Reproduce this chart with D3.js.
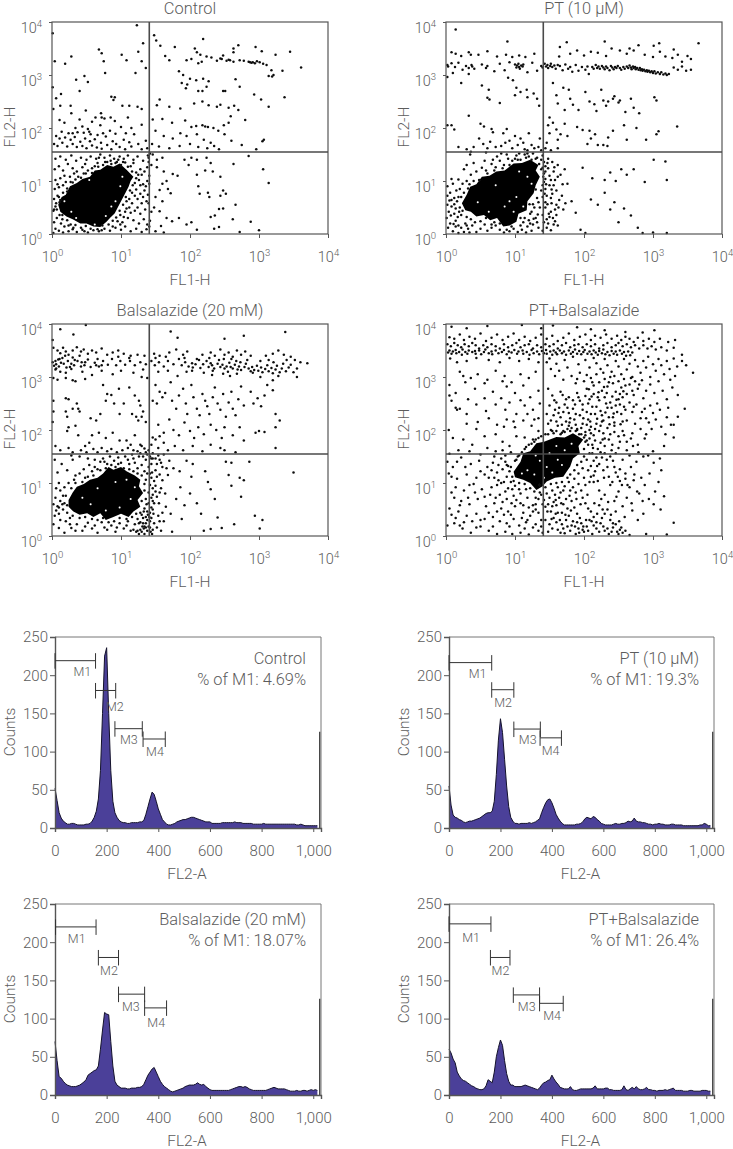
<!DOCTYPE html>
<html>
<head>
<meta charset="utf-8">
<script src="https://cdn.jsdelivr.net/npm/d3@7"></script>
<style>
    html, body { margin: 0; background: #fff; }
    svg { display: block; }
    text { font-family: Roboto, "Liberation Sans", sans-serif; font-weight: 300; fill: #5c5c5c; }
</style>
</head>
<body>
<script>
// ---- scatter values as log10 of FL1-H, FL2-H ----
const controlDense = [[.09,.55],[.14,.70],[.20,.74],[.26,.90],[.36,.96],[.44,1.04],[.55,1.08],[.62,1.20],[.70,1.21],[.80,1.30],[.89,1.27],[.98,1.33],[1.08,1.21],[1.18,1.08],[1.14,1.00],[1.11,.89],[1.05,.74],[1.01,.64],[.96,.52],[.91,.39],[.84,.30],[.79,.23],[.70,.13],[.60,.14],[.50,.20],[.41,.20],[.30,.28],[.21,.33],[.12,.42]];
const controlHoles = [[.62,.18],[.78,.34],[.92,.62],[.28,.42],[.99,.90],[.18,.62],[1.02,1.08],[.54,1.02],[.35,.30],[.86,.52]];
const controlDots = [
[1.23,3.94],[.01,3.79],[1.32,3.60],[1.25,3.44],[.68,3.48],[.72,3.41],[1.01,3.38],[1.08,3.28],[.75,3.26],[1.30,3.26],[.04,3.26],[.19,3.21],[.28,3.35],[1.21,3.04],[1.36,3.13],[.77,3.04],[.47,2.98],[.35,2.91],[.52,2.87],[.40,2.70],[.01,2.77],[.13,2.64],[.06,2.56],[.86,2.59],[.91,2.58],[.89,2.53],[.12,2.42],[.27,2.42],[.02,2.36],[.28,2.28],[.49,2.33],[.71,2.28],[.85,2.20],[1.02,2.42],[1.12,2.42],[1.24,2.40],[1.30,2.36],[.63,2.20],[.72,2.20],[.76,2.18],[.91,2.13],[1.10,2.20],[.11,2.15],[.18,2.10],[.40,2.16],[.58,2.12],[.34,2.00],[.44,2.03],[.52,1.98],[.70,2.05],[.84,1.95],[1.00,2.02],[1.15,2.00],[1.30,2.06],[.14,1.93],[.24,1.90],[.30,1.90],[.37,1.92],[.46,1.91],[.54,1.93],[.56,1.88],[.66,1.87],[.74,1.90],[.92,1.89],[1.07,1.90],[1.19,1.88],[.06,1.85],[.11,1.80],[.19,1.82],[.27,1.78],[.33,1.83],[.41,1.74],[.48,1.80],[.55,1.75],[.62,1.79],[.71,1.72],[.78,1.84],[.88,1.75],[.93,1.70],[1.04,1.78],[1.12,1.73],[1.25,1.70],[1.36,1.76],[.03,1.70],[.08,1.66],[.15,1.72],[.22,1.65],[.30,1.70],[.36,1.64],[.44,1.66],[.50,1.62],[.58,1.67],[.65,1.63],[.72,1.61],[.80,1.68],[.86,1.60],[.98,1.64],[1.06,1.60],[1.15,1.65],[1.30,1.60],[1.38,1.62],
[1.48,3.75],[1.51,3.65],[1.57,3.55],[1.78,3.53],[2.19,3.68],[1.64,3.36],[1.70,3.28],[2.07,3.50],[2.10,3.43],[2.15,3.38],[2.48,3.37],[2.63,3.50],[2.70,3.56],[2.63,3.43],[2.95,3.53],[3.04,3.45],[3.24,3.38],[3.45,3.44],[1.95,3.28],[2.02,3.30],[2.12,3.22],[2.17,3.25],[2.24,3.35],[2.31,3.33],[2.39,3.27],[2.44,3.31],[2.46,3.30],[2.53,3.27],[2.56,3.29],[2.58,3.28],[2.63,3.25],[2.72,3.28],[2.78,3.27],[2.85,3.25],[2.87,3.24],[2.89,3.23],[2.91,3.24],[2.94,3.22],[2.97,3.26],[3.01,3.24],[3.06,3.21],[3.11,3.19],[3.18,3.09],[3.21,3.00],[3.14,2.98],[3.19,2.97],[3.34,3.08],[3.61,3.14],[1.84,3.07],[1.90,3.00],[2.00,2.93],[2.09,2.90],[2.19,2.93],[2.27,2.88],[1.88,2.85],[1.96,2.82],[2.24,2.78],[2.66,2.92],[2.72,2.78],[1.94,2.75],[2.12,2.70],[2.18,2.70],[2.48,2.70],[2.51,2.70],[2.93,2.63],[3.03,2.54],[3.37,2.58],[3.14,2.40],[1.56,2.54],[1.70,2.40],[1.52,2.43],[1.86,2.37],[2.06,2.46],[2.18,2.50],[2.27,2.43],[2.39,2.40],[2.44,2.44],[2.56,2.38],[2.64,2.42],[2.70,2.34],[1.60,2.17],[1.46,2.16],[1.74,2.10],[1.93,2.14],[2.02,2.02],[2.09,2.04],[2.18,2.05],[2.22,2.03],[2.26,2.02],[2.34,2.00],[2.49,2.05],[2.56,2.10],[2.59,2.22],[2.80,2.15],[2.41,1.95],[2.50,1.88],[1.50,1.95],[1.62,1.85],[1.75,1.80],[1.86,1.90],[1.95,1.85],[2.10,1.88],[2.20,1.78],[2.30,1.72],[2.60,1.76],[3.05,1.75],[3.07,1.78],[2.75,1.68],[2.96,1.60],[1.45,1.70],[1.55,1.65],[1.70,1.62],[1.85,1.66],[2.00,1.70],[2.12,1.64],[2.25,1.62],[2.35,1.66],[2.42,1.60],
[1.46,1.50],[1.52,1.40],[1.60,1.44],[1.44,1.30],[1.52,1.26],[1.62,1.18],[1.75,1.13],[1.82,1.10],[1.66,1.00],[1.60,.95],[1.56,.83],[1.68,.85],[1.72,.77],[1.60,.62],[1.50,.70],[1.48,.50],[1.44,.42],[1.56,.43],[1.66,.30],[1.74,.24],[1.84,.30],[1.95,.18],[2.02,.22],[1.58,.15],[1.62,.03],[1.50,.05],[2.10,.08],[2.35,.10],[2.42,.13],[2.72,.04],[3.00,.07],[2.88,.23],[3.14,.96],[3.06,1.22],[2.85,1.47],[2.63,1.32],[2.24,1.44],[2.30,1.34],[2.33,1.18],[2.22,1.20],[2.10,1.12],[2.02,1.44],[1.98,1.30],[1.92,1.40],[2.10,1.40],[2.12,.90],[2.14,.76],[2.26,.78],[2.28,.70],[2.44,1.08],[2.48,.82],[2.52,.76],[2.44,.72],[2.42,.47],[2.48,.48],[2.36,.35],[2.30,.32],[2.66,.55],[2.62,.28]
];
const controlFringe = [
[.02,.02],[.05,.10],[.10,.06],[.16,.03],[.24,.05],[.30,.09],[.36,.04],[.44,.08],[.52,.03],[.60,.07],[.68,.05],[.76,.10],[.84,.06],[.92,.12],[1.00,.08],[1.06,.14],[1.14,.05],[1.22,.10],[1.30,.04],[1.37,.09],[.03,.22],[.07,.30],[.13,.20],[.18,.14],[.95,.24],[1.02,.22],[1.10,.30],[1.18,.26],[1.26,.20],[1.33,.28],[1.38,.18],[.02,.44],[.05,.52],[.99,.36],[1.06,.42],[1.12,.50],[1.20,.44],[1.28,.38],[1.35,.46],[.03,.66],[.08,.72],[.12,.64],[1.08,.62],[1.16,.58],[1.24,.66],[1.30,.58],[1.37,.62],[.04,.85],[.10,.88],[.16,.92],[.22,.86],[.27,.98],[1.16,.78],[1.22,.84],[1.28,.76],[1.34,.82],[1.39,.74],[.05,1.02],[.12,1.05],[.18,1.10],[.26,1.08],[.34,1.03],[.42,1.06],[.46,1.14],[1.20,.96],[1.26,1.02],[1.32,.94],[1.38,1.00],[.04,1.22],[.10,1.28],[.16,1.20],[.23,1.32],[.30,1.24],[.36,1.18],[.44,1.26],[.52,1.20],[.58,1.15],[.62,1.28],[.66,1.34],[.74,1.30],[.80,1.36],[.86,1.32],[.94,1.36],[1.00,1.30],[1.06,1.35],[1.14,1.28],[1.22,1.16],[1.28,1.22],[1.34,1.18],[1.38,1.26],[.05,1.42],[.12,1.46],[.20,1.40],[.28,1.48],[.35,1.38],[.42,1.44],[.50,1.40],[.56,1.46],[.64,1.42],[.70,1.50],[.76,1.44],[.84,1.48],[.90,1.42],[.98,1.46],[1.04,1.42],[1.10,1.48],[1.18,1.40],[1.24,1.46],[1.32,1.38],[1.39,1.48],[1.40,1.36],
[.07,.46],[.11,.36],[.15,.28],[.22,.26],[.27,.18],[.34,.17],[.42,.12],[.49,.15],[.56,.10],[.66,.09],[.73,.16],[.82,.18],[.88,.25],[.93,.31],[.98,.44],[1.03,.55],[1.07,.70],[1.13,.82],[1.17,.92],[1.22,1.05],[1.25,1.12],[1.16,1.18],[1.10,1.27],[1.03,1.36],[.92,1.34],[.85,1.38],[.77,1.36],[.67,1.27],[.58,1.24],[.49,1.14],[.38,1.08],[.30,.97],[.22,.80],[.16,.78],[.11,.60],[.06,.58],[.10,.70],[.15,.36],[.31,.12],[.47,.05],[.72,.07],[.99,.18],[1.08,.48],[1.12,.66],[1.20,.72],[1.28,.92],[1.30,1.12],[1.18,1.34],[.96,1.40],[.68,1.44],[.48,1.32],[.32,1.14],[.20,.98],[.08,.94],[.03,.46],[.24,.16],[.88,.14],[1.04,.32],[1.14,.40],[1.24,.50],[1.32,.70],[1.36,.90],[1.41,.95],[1.40,.58],[1.42,.25],[1.41,.14],[1.41,1.10],[1.40,1.44],[1.42,1.52]
];

const ptDense = [[.23,.58],[.30,.74],[.35,.89],[.44,.94],[.52,1.08],[.63,1.10],[.73,1.18],[.85,1.20],[.98,1.33],[1.10,1.34],[1.22,1.40],[1.34,1.30],[1.30,1.20],[1.36,1.08],[1.30,.92],[1.27,.77],[1.18,.62],[1.17,.45],[1.05,.38],[1.02,.23],[.92,.16],[.83,.14],[.74,.30],[.64,.26],[.55,.36],[.44,.33],[.36,.42],[.28,.45]];
const ptHoles = [[.92,.62],[1.02,.70],[.85,.52],[.98,.42],[1.12,.52],[.62,.42],[1.24,.95],[1.18,1.08],[.46,.60],[1.06,1.18],[.72,.92]];
const ptDots = [
[.14,3.86],[.89,3.63],[1.75,3.62],[1.65,3.53],[2.30,3.63],[2.40,3.50],[2.66,3.50],[2.79,3.56],[3.01,3.55],[3.09,3.60],[3.30,3.48],[3.66,3.60],[.08,3.43],[.14,3.40],[.22,3.36],[.33,3.43],[.36,3.38],[.47,3.38],[.60,3.45],[.74,3.35],[.87,3.38],[.96,3.34],[1.06,3.37],[1.15,3.34],[1.28,3.40],[1.64,3.35],[1.80,3.40],[1.90,3.46],[2.00,3.37],[2.10,3.44],[2.20,3.42],[2.32,3.36],[2.52,3.46],[2.62,3.40],[2.72,3.46],[2.88,3.38],[3.00,3.34],[3.10,3.44],[3.18,3.35],[3.28,3.32],[3.36,3.38],[3.50,3.36],[3.55,3.30],[3.42,3.25],
[.02,3.19],[.03,3.16],[.08,3.22],[.13,3.15],[.18,3.23],[.24,3.10],[.29,3.17],[.33,3.13],[.37,3.19],[.38,3.16],[.41,3.12],[.52,3.20],[.58,3.13],[.60,3.17],[.70,3.07],[.78,3.21],[.85,3.09],[.92,3.24],[1.00,3.20],[1.02,3.14],[1.03,3.18],[1.05,3.21],[1.06,3.15],[1.07,3.12],[1.09,3.18],[1.11,3.16],[1.12,3.20],[1.18,3.05],[1.25,3.23],[1.32,3.08],[1.38,3.17],[1.40,3.14],[1.43,3.21],[1.45,3.16],[1.47,3.19],[1.48,3.13],[1.51,3.17],[1.52,3.21],[1.54,3.15],[1.57,3.18],[1.59,3.12],[1.62,3.19],[1.65,3.17],[1.69,3.09],[1.73,3.20],[1.77,3.12],[1.80,3.15],[1.83,3.06],[1.88,3.19],[1.92,3.08],[1.97,3.15],[2.02,3.10],[2.05,3.16],[2.07,3.02],[2.12,3.15],[2.14,3.12],[2.17,3.19],[2.19,3.13],[2.21,3.16],[2.23,3.12],[2.26,3.17],[2.28,3.14],[2.30,3.11],[2.32,3.16],[2.34,3.13],[2.37,3.09],[2.39,3.17],[2.41,3.14],[2.43,3.11],[2.45,3.15],[2.47,3.13],[2.49,3.17],[2.52,3.13],[2.54,3.10],[2.57,3.15],[2.59,3.12],[2.62,3.16],[2.64,3.13],[2.66,3.18],[2.68,3.14],[2.69,3.11],[2.71,3.16],[2.72,3.13],[2.74,3.15],[2.75,3.11],[2.77,3.13],[2.79,3.10],[2.81,3.13],[2.82,3.09],[2.84,3.11],[2.85,3.08],[2.87,3.10],[2.89,3.07],[2.91,3.09],[2.92,3.06],[2.94,3.08],[2.96,3.05],[2.98,3.07],[3.00,3.04],[3.02,3.07],[3.04,3.03],[3.07,3.05],[3.10,3.02],[3.12,3.05],[3.15,3.01],[3.18,3.03],[3.20,3.00],[3.23,3.02],[3.30,3.14],[3.36,3.10],[3.42,3.16],[3.48,3.08],[3.55,3.10],
[.10,3.04],[.22,2.85],[.33,3.02],[.52,2.80],[.62,2.72],[.90,2.95],[.97,2.90],[1.02,2.76],[1.08,2.68],[1.00,2.62],[1.17,2.72],[1.27,2.65],[1.32,2.55],[1.35,2.42],[1.18,2.58],[.60,2.57],[.63,2.54],[.78,2.47],[.02,2.96],[1.55,2.85],[1.60,2.62],[1.62,2.46],[1.70,2.76],[1.72,2.34],[1.78,2.72],[1.80,2.55],[1.84,2.44],[1.92,2.34],[2.02,2.68],[2.08,2.50],[2.15,2.45],[2.18,2.32],[2.25,2.72],[2.28,2.52],[2.32,2.42],[2.35,2.50],[2.42,2.55],[2.44,2.60],[2.50,2.48],[2.52,2.52],[2.60,2.30],[2.68,2.55],[2.72,2.38],[2.80,2.28],[3.02,2.58],[3.05,2.52],[1.50,2.20],[1.55,2.10],[1.48,2.05],[1.50,1.90],[1.60,1.97],[1.66,1.88],[1.62,1.78],[1.72,2.08],[1.76,1.85],[1.90,2.02],[1.98,1.96],[2.08,1.95],[2.10,1.80],[2.16,1.88],[2.05,1.70],[2.20,1.68],[2.28,1.68],[2.34,1.66],[2.35,1.82],[2.42,1.95],[2.58,2.05],[2.62,1.78],[2.76,2.00],[2.90,1.78],[3.05,1.88],[3.08,1.94],[3.35,2.03],
[.02,2.05],[.08,2.05],[.12,1.97],[.33,2.23],[.36,1.55],[.50,2.08],[.55,2.03],[.66,1.98],[.68,1.92],[.48,1.80],[.54,1.70],[.64,1.74],[.72,1.64],[.83,1.90],[.88,1.98],[.92,1.76],[1.00,1.85],[1.08,1.80],[1.12,1.72],[1.20,1.90],[1.24,1.68],[1.28,1.62],[1.36,1.80],[.18,1.64],[.30,1.60],[.40,1.64],[.60,1.62],[.80,1.66],[.86,1.72],[.96,1.62],[1.04,1.68],[1.14,1.60],[1.18,1.58],[1.34,1.64],[1.38,1.58],[1.44,1.62],[1.46,1.72],[1.52,1.58],[1.62,1.62],[1.40,1.48],[1.48,1.42],[1.54,1.36],[1.62,1.30],[1.72,1.22],[1.44,1.18],[1.50,1.10],[1.58,1.02],[1.66,1.12],[1.76,.95],[1.50,.92],[1.60,.82],[1.68,.72],[1.44,.85],[1.52,.68],[1.60,.55],[1.44,.60],[1.52,.42],[1.60,.36],[1.46,.28],[1.56,.18],[1.70,.46],[1.82,.62],[1.88,.40],[1.95,.08],[2.02,.02],[2.20,.55],[2.30,.78],[2.38,.46],[2.44,.60],[2.50,.22],[2.58,.48],[2.68,.35],[2.78,.12],[3.00,.03],[2.30,1.02],[2.38,1.16],[2.46,1.00],[2.54,1.22],[2.62,1.12],[2.72,1.22],[2.88,.98],[3.01,1.40],[3.18,1.37],[3.20,1.02],[1.98,1.25],[2.10,.65],[2.12,1.05],[2.85,.02],[3.20,.02],
[.01,.30],[.04,.42],[.08,.52],[.02,.55],[.12,.38],[.06,.20],[.14,.25],[.18,.16],[.22,.12],[.28,.20],[.32,.10],[.38,.16],[.44,.04],[.50,.10],[.56,.18],[.60,.06],[.66,.12],[.10,.05],[.18,.02],[.26,.04],[.34,.03],[.02,.72],[.06,.78],[.12,.68],[.18,.70],[.02,.90],[.10,.95],[.18,1.03],[.20,.85],[.26,1.22],[.30,1.00],[.36,1.12],[.44,1.18],[.52,1.25],[.58,1.20],[.66,1.32],[.72,1.26],[.78,1.38],[.84,1.30],[.90,1.42],[.96,1.38],[1.02,1.48],[1.08,1.40],[1.14,1.50],[1.20,1.46],[1.26,1.52],[1.32,1.44],[1.38,1.40],[1.42,1.36],[1.40,1.25],[1.44,1.04],[1.40,.92],[1.32,.68],[1.40,.70],[1.26,.56],[1.36,.50],[1.22,.38],[1.30,.30],[1.40,.36],[1.12,.22],[1.18,.14],[1.26,.18],[1.34,.12],[1.40,.06],[.92,.05],[.98,.10],[1.04,.04],[1.10,.08],[1.16,.03],[1.24,.06],[.78,.08],[.84,.03],
[.08,.64],[.14,.48],[.20,.50],[.24,.44],[.30,.32],[.36,.28],[.42,.22],[.50,.24],[.58,.30],[.66,.18],[.72,.16],[.78,.20],[.88,.08],[.95,.14],[1.08,.16],[1.14,.30],[1.20,.26],[1.24,.42],[1.28,.50],[1.34,.60],[1.30,.84],[1.38,.82],[1.42,.98],[1.42,1.14],[1.38,1.22],[1.44,1.28],[1.30,1.42],[1.16,1.44],[1.04,1.40],[.92,1.30],[.82,1.24],[.70,1.20],[.60,1.14],[.48,1.02],[.40,1.00],[.32,.86],[.26,.78],[.22,.70],[.16,.62],[.34,.94],[.68,1.40],[.88,1.50],[1.00,1.42],[1.18,1.52],[1.44,.50],[1.46,.72],[1.48,.20],[1.50,.32],[1.54,.76],[1.56,.92],[1.58,.24],[1.62,.16],[1.64,.64],[1.58,.46],[1.42,.22],[1.32,.22],[1.22,.20],[1.08,.30],[.70,.22],[.30,.16],[.14,.14],[.22,.36],[.12,.56],[1.48,1.24],[1.52,1.02],[1.62,1.08],[1.56,1.18],
[1.47,.56],[1.43,.76],[1.49,.38],[1.55,.30],[1.53,.58],[1.63,.50],[1.46,.12],[1.52,.07],[1.33,.37],[1.27,.29],[1.21,.56],[1.45,.94],[1.53,.84],[1.41,1.08],[1.35,1.32],[1.47,1.34],[1.57,1.26],[1.69,.94],[1.73,.58],[.03,.12],[.11,.19],[.17,.32],[.07,.35],[.19,.42],[.05,.63],[.15,.82],[.24,.95],[.08,1.04],[.30,1.30],[.40,1.34],[.56,1.38],[.74,1.46],[1.06,1.52],[1.24,1.40],[.35,1.50],[.58,1.54],[.80,1.52]
];

const balsDense = [[.24,.68],[.30,.82],[.36,.93],[.46,.98],[.55,1.06],[.66,1.10],[.74,1.18],[.82,1.30],[.89,1.25],[1.00,1.30],[1.08,1.22],[1.20,1.14],[1.28,1.06],[1.26,.94],[1.32,.81],[1.24,.68],[1.28,.55],[1.18,.46],[1.11,.36],[1.00,.42],[.89,.36],[.78,.30],[.70,.43],[.60,.36],[.51,.43],[.40,.40],[.31,.46],[.24,.55]];
const balsHoles = [[.98,.54],[1.14,.70],[.78,.48],[.56,.60],[.92,1.02],[1.08,1.06],[.44,.72],[1.20,.92],[.66,.90]];
const balsDots = [
[.12,3.90],[.31,3.80],[.49,3.98],[.01,3.70],[1.72,3.86],[1.82,3.74],[2.50,3.72],[2.78,3.78],[3.38,3.85],[.02,3.55],[.08,3.50],[.12,3.45],[.16,3.55],[.20,3.48],[.24,3.42],[.30,3.50],[.36,3.56],[.42,3.48],[.46,3.52],[.52,3.44],[.58,3.50],[.64,3.46],[.72,3.54],[.80,3.42],[.88,3.46],[.96,3.50],[1.04,3.44],[1.14,3.40],[1.24,3.42],[1.34,3.40],[1.48,3.44],[1.56,3.40],[1.70,3.46],[1.80,3.52],[1.90,3.42],[1.96,3.48],[2.18,3.42],[2.30,3.46],[2.36,3.40],[2.44,3.52],[2.50,3.42],[2.56,3.46],[2.62,3.38],[2.68,3.50],[2.74,3.42],[2.80,3.48],[2.88,3.40],[3.10,3.40],[3.20,3.44],[3.28,3.50],[3.36,3.42],[3.46,3.38],[3.52,3.32],
[.01,3.28],[.03,3.21],[.05,3.30],[.06,3.24],[.09,3.33],[.10,3.20],[.13,3.27],[.15,3.36],[.17,3.25],[.21,3.18],[.23,3.30],[.28,3.25],[.30,3.37],[.32,3.22],[.37,3.30],[.42,3.20],[.43,3.28],[.47,3.22],[.52,3.33],[.56,3.19],[.62,3.27],[.64,3.22],[.66,3.34],[.68,3.20],[.74,3.30],[.81,3.23],[.87,3.34],[.93,3.22],[.99,3.30],[1.06,3.23],[1.13,3.30],[1.20,3.22],[1.28,3.28],[1.36,3.24],[1.44,3.30],[1.49,3.22],[1.55,3.28],[1.62,3.20],[1.68,3.30],[1.76,3.24],[1.84,3.34],[1.88,3.22],[1.93,3.28],[1.98,3.20],[2.03,3.26],[2.04,3.18],[2.08,3.24],[2.13,3.32],[2.15,3.17],[2.19,3.24],[2.24,3.30],[2.27,3.19],[2.30,3.26],[2.32,3.22],[2.35,3.16],[2.40,3.25],[2.44,3.19],[2.47,3.23],[2.50,3.16],[2.53,3.20],[2.57,3.27],[2.59,3.19],[2.62,3.16],[2.65,3.23],[2.69,3.14],[2.71,3.20],[2.74,3.13],[2.79,3.19],[2.81,3.25],[2.85,3.16],[2.88,3.11],[2.90,3.19],[2.93,3.13],[2.97,3.21],[2.99,3.12],[3.03,3.18],[3.05,3.09],[3.09,3.15],[3.12,3.22],[3.14,3.11],[3.18,3.17],[3.20,3.07],[3.24,3.14],[3.26,3.21],[3.30,3.09],[3.33,3.16],[3.35,3.25],[3.39,3.11],[3.43,3.18],[3.46,3.23],[3.50,3.09],[3.55,3.16],[3.60,3.28],[3.70,3.26],[3.55,3.00],
[.05,3.14],[.12,3.10],[.20,3.08],[.28,3.15],[.44,3.10],[.58,3.04],[.72,3.12],[.88,3.05],[1.00,3.12],[1.18,3.08],[1.32,3.14],[1.54,3.10],[1.68,3.12],[1.82,3.02],[1.95,3.10],[2.20,3.08],[2.32,3.04],[2.48,3.06],[2.58,3.02],[2.68,3.06],[3.02,3.00],[3.20,2.94],[.02,2.98],[.08,2.95],[.20,2.98],[.30,2.94],[.34,2.92],[.48,2.96],[.74,2.85],[.80,2.68],[.86,2.66],[.78,2.55],[.97,2.78],[1.12,2.80],[1.20,2.65],[1.26,2.55],[1.38,2.98],[1.30,3.00],[.20,2.60],[.24,2.58],[.02,2.55],[.30,2.40],[.36,2.50],[.38,2.40],[.40,2.35],[.20,2.35],[.22,2.25],[.56,2.22],[.70,2.30],[.64,2.18],[.90,2.50],[.98,2.30],[1.04,2.50],[1.16,2.30],[1.22,2.25],[1.25,2.18],[1.30,2.25],[1.32,2.35],[1.28,2.46],[1.36,2.15],[.02,2.35],[.01,2.15],[.24,2.05],[.22,1.98],[.34,2.08],[.38,1.90],[.48,1.70],[.54,1.76],[.58,1.90],[.68,1.95],[.78,1.85],[.88,1.95],[.98,1.80],[1.08,1.80],[1.14,1.72],[1.20,1.90],[1.28,1.72],[1.34,1.65],[.05,1.70],[.12,1.62],[.24,1.66],[.30,1.58],[.42,1.62],[.50,1.58],[.60,1.64],[.66,1.58],[.72,1.66],[.80,1.60],[.86,1.64],[.94,1.58],[1.02,1.62],[1.10,1.66],[1.18,1.62],[1.24,1.60],[1.30,1.70],[1.36,1.58],[1.40,1.62],
[1.50,2.85],[1.56,2.72],[1.60,2.62],[1.52,2.50],[1.46,2.55],[1.64,2.70],[1.72,2.90],[1.74,2.55],[1.80,2.40],[1.84,2.65],[1.90,2.78],[1.94,2.50],[1.96,2.30],[2.02,2.85],[2.05,2.62],[2.10,2.40],[2.14,2.28],[2.18,2.68],[2.22,2.55],[2.25,2.45],[2.28,2.30],[2.33,2.62],[2.36,2.80],[2.40,2.50],[2.44,2.38],[2.48,2.68],[2.52,2.25],[2.56,2.52],[2.60,2.72],[2.62,2.40],[2.66,2.28],[2.70,2.58],[2.74,2.82],[2.78,2.46],[2.88,2.72],[2.92,2.50],[2.98,2.60],[3.03,2.45],[3.08,2.65],[3.12,2.85],[3.20,2.75],[3.24,2.30],[3.30,2.18],[3.24,2.05],[1.54,2.10],[1.62,1.95],[1.70,2.20],[1.76,2.00],[1.84,1.90],[1.92,2.14],[2.00,1.98],[2.06,1.85],[2.12,2.05],[2.20,1.92],[2.30,2.10],[2.38,2.00],[2.46,1.85],[2.50,2.05],[2.62,1.90],[2.72,2.05],[2.78,1.80],[2.95,1.95],[3.00,1.98],[3.08,1.96],[1.46,1.86],[1.50,1.82],[1.56,1.88],[1.62,1.76],[1.44,1.72],[1.54,1.66],[1.68,1.62],[1.78,1.70],[1.90,1.62],[2.04,1.70],[2.18,1.60],[2.30,1.72],[2.44,1.66],[2.50,1.62],[2.66,1.58],[3.24,1.66],
[1.46,1.46],[1.52,1.36],[1.60,1.30],[1.70,1.42],[1.76,1.28],[1.85,1.22],[1.45,1.20],[1.52,1.12],[1.60,1.05],[1.68,1.15],[1.50,.95],[1.56,.82],[1.64,.80],[1.46,.78],[1.55,.62],[1.65,.55],[1.46,.50],[1.54,.38],[1.62,.28],[1.72,.42],[1.80,.70],[1.86,.92],[1.92,.58],[2.00,.80],[2.10,.62],[2.16,.42],[2.22,1.22],[2.26,1.02],[2.30,.88],[2.36,.70],[2.40,.35],[2.46,.15],[2.52,1.40],[2.56,1.15],[2.60,.95],[2.64,.22],[2.72,1.10],[2.78,1.05],[2.60,1.38],[2.74,.74],[2.86,1.40],[2.94,.38],[3.01,.14],[3.05,.30],[3.50,1.20],[2.02,1.12],[2.04,1.36],[1.95,1.42],[1.88,.32],[1.74,.08],[2.20,.10],[2.30,.13],
[.02,.60],[.05,.72],[.08,.56],[.12,.66],[.16,.50],[.10,.42],[.04,.38],[.02,.22],[.10,.15],[.18,.06],[.28,.15],[.36,.22],[.44,.10],[.52,.25],[.58,.14],[.66,.06],[.72,.26],[.80,.12],[.86,.20],[.92,.08],[.98,.24],[1.04,.14],[1.10,.28],[1.14,.10],[1.20,.22],[1.24,.32],[1.28,.12],[1.32,.24],[1.36,.36],[1.40,.18],[1.43,.08],[1.38,.46],[1.34,.52],[1.40,.62],[1.42,.44],[1.36,.70],[1.40,.82],[1.42,.96],[1.36,1.06],[1.38,1.18],[1.34,1.22],[1.40,1.30],[1.30,1.34],[1.20,1.38],[1.10,1.44],[1.00,1.38],[.90,1.42],[.80,1.36],[.70,1.40],[.62,1.30],[.54,1.34],[.46,1.26],[.40,1.18],[.32,1.06],[.24,1.00],[.18,.92],[.12,.86],[.06,.90],[.14,1.36],[.30,1.44],[.04,1.44],[.08,1.20],[.22,1.24],
[.18,.62],[.20,.76],[.28,.90],[.34,1.00],[.44,1.02],[.52,1.12],[.60,1.14],[.70,1.24],[.78,1.28],[.86,1.34],[.96,1.36],[1.04,1.28],[1.12,1.26],[1.18,1.22],[1.24,1.18],[1.30,1.14],[1.34,.98],[1.34,.86],[1.30,.66],[1.28,.44],[1.22,.42],[1.16,.36],[1.08,.32],[.98,.34],[.90,.28],[.82,.26],[.74,.34],[.66,.30],[.58,.32],[.48,.36],[.40,.34],[.30,.38],[.22,.44],[.26,.34],[.20,.28],[1.24,.10],[1.28,.26],[1.34,.04],[1.36,.16],[1.30,.40],[1.38,.30],[1.32,.34],[1.34,.18],[1.26,.24],[1.22,.08],[1.42,.28],[1.44,.34],[1.46,.12],[1.48,.24],[1.44,.54],[1.48,.62],[1.44,.72],[1.50,.84],[1.44,1.10],[1.50,1.24],[1.44,1.36],[1.50,1.46],[1.36,1.44],[1.26,1.50],[1.18,1.46],[1.06,1.50],[.96,1.48],[.84,1.50],[.74,1.46],[.62,1.44],[.52,1.46],[.40,1.50],[.28,1.52],[1.32,1.50],[1.42,1.50],[1.38,1.54],[1.28,1.56],[1.16,1.54],[1.46,1.56],[1.54,1.52],[1.62,1.54],[1.56,1.44],
[.06,3.16],[.11,3.34],[.19,3.40],[.26,3.19],[.33,3.32],[.40,3.40],[.48,3.28],[.72,3.22],[.96,3.38],[1.12,3.36],[1.50,3.36],[1.65,3.38],[1.92,3.36],[2.03,3.12],[2.10,3.34],[2.28,3.36],[2.33,3.12],[2.42,3.32],[2.49,3.34],[2.55,3.10],[2.60,3.34],[2.67,3.30],[2.73,3.28],[2.83,3.32],[2.91,3.08],[3.02,3.30],[3.14,3.32],[3.21,3.28],[3.28,3.02],[3.40,3.32],
[1.30,.08],[1.33,.14],[1.26,.04],[1.38,.10],[1.42,.16],[1.36,.24],[1.31,.18],[1.39,.40],[1.45,.04],[1.41,.36],[1.37,.60],[1.33,.46],[1.47,.42],[1.52,.16],[1.56,.28],[1.58,.10],[1.60,.44],[1.46,.66],[1.52,.74],[1.58,.90],[1.46,.90],[1.42,1.18],[1.48,1.04],[1.56,1.16],[1.44,1.46],[1.58,1.38],[1.66,1.28],[.10,.54],[.15,.60],[.06,.48],[.22,.58],[.12,.30],[.26,.22],[.34,.10],[.48,.18],[.62,.20],[.76,.16],[.94,.16],[1.08,.20],[1.18,.12],[.16,.76],[.10,1.00],[.34,1.14],[.48,1.10],[.58,1.22],[.66,1.26],[.76,1.40],[.92,1.30],[1.12,1.36],[1.24,1.28]
];

const comboDense = [[.98,1.21],[1.08,1.40],[1.12,1.56],[1.22,1.60],[1.31,1.75],[1.42,1.78],[1.60,1.87],[1.72,1.86],[1.84,1.94],[1.99,1.82],[1.92,1.70],[1.94,1.56],[1.84,1.46],[1.80,1.31],[1.74,1.20],[1.70,1.12],[1.58,1.10],[1.46,1.03],[1.40,.94],[1.31,.87],[1.22,1.00],[1.12,1.06],[1.00,1.11]];
const comboHoles = [[1.60,1.70],[1.72,1.62],[1.36,1.42],[1.50,1.56],[1.18,1.24],[1.28,1.16],[1.46,1.30],[1.62,1.44],[1.82,1.74],[1.54,1.20],[1.42,1.10],[1.10,1.18],[1.68,1.34],[1.30,1.52]];
const comboDots = [
[.08,3.95],[.30,3.92],[.60,3.96],[1.10,3.98],[1.38,3.92],[1.55,3.97],[1.90,3.94],[2.10,3.90],[2.30,3.88],[2.60,3.85],[2.85,3.84],[3.02,3.88],[.05,3.75],[.12,3.72],[.20,3.80],[.26,3.70],[.34,3.76],[.42,3.72],[.50,3.82],[.58,3.68],[.66,3.74],[.74,3.80],[.82,3.70],[.90,3.76],[.98,3.82],[1.06,3.70],[1.14,3.76],[1.22,3.68],[1.30,3.74],[1.38,3.80],[1.46,3.72],[1.54,3.78],[1.62,3.68],[1.70,3.74],[1.78,3.82],[1.86,3.70],[1.94,3.76],[2.02,3.80],[2.10,3.70],[2.16,3.78],[2.24,3.74],[2.32,3.80],[2.40,3.72],[2.48,3.78],[2.54,3.70],[2.60,3.76],[2.66,3.72],[2.72,3.66],[2.78,3.74],[2.86,3.68],[2.94,3.72],[3.02,3.66],[3.10,3.72],[3.22,3.66],[3.32,3.70],
[.02,3.62],[.07,3.58],[.12,3.64],[.17,3.60],[.22,3.56],[.27,3.62],[.33,3.58],[.38,3.64],[.43,3.60],[.48,3.54],[.54,3.60],[.60,3.56],[.66,3.62],[.72,3.58],[.78,3.54],[.84,3.62],[.90,3.56],[.96,3.60],[1.02,3.64],[1.08,3.56],[1.14,3.60],[1.20,3.62],[1.26,3.54],[1.32,3.60],[1.38,3.56],[1.44,3.62],[1.50,3.58],[1.56,3.62],[1.62,3.54],[1.68,3.60],[1.74,3.64],[1.80,3.56],[1.86,3.60],[1.92,3.62],[1.98,3.56],[2.04,3.62],[2.10,3.58],[2.16,3.62],[2.22,3.54],[2.28,3.60],[2.34,3.64],[2.40,3.56],[2.46,3.60],[2.50,3.64],[2.56,3.58],[2.62,3.62],[2.68,3.56],[2.74,3.60],[2.80,3.54],[2.86,3.60],[2.92,3.54],[2.98,3.58],[3.04,3.52],[3.12,3.56],[3.20,3.50],[3.30,3.55],[3.42,3.42],
[.03,3.46],[.05,3.50],[.08,3.44],[.10,3.48],[.14,3.51],[.15,3.45],[.19,3.47],[.23,3.42],[.24,3.52],[.28,3.47],[.31,3.44],[.33,3.50],[.38,3.47],[.42,3.49],[.43,3.44],[.48,3.50],[.51,3.43],[.55,3.47],[.57,3.52],[.62,3.45],[.66,3.48],[.67,3.43],[.72,3.50],[.76,3.45],[.81,3.47],[.84,3.51],[.88,3.43],[.91,3.48],[.95,3.46],[.99,3.51],[1.03,3.44],[1.05,3.48],[1.11,3.50],[1.12,3.44],[1.17,3.47],[1.21,3.42],[1.24,3.51],[1.27,3.45],[1.32,3.48],[1.35,3.43],[1.39,3.49],[1.42,3.45],[1.45,3.51],[1.46,3.44],[1.51,3.48],[1.54,3.42],[1.56,3.50],[1.59,3.46],[1.61,3.43],[1.65,3.50],[1.68,3.45],[1.71,3.48],[1.74,3.42],[1.78,3.50],[1.81,3.44],[1.84,3.47],[1.87,3.52],[1.90,3.44],[1.93,3.49],[1.96,3.43],[1.99,3.47],[2.01,3.51],[2.05,3.44],[2.08,3.48],[2.11,3.43],[2.14,3.50],[2.17,3.46],[2.20,3.42],[2.22,3.49],[2.26,3.45],[2.28,3.52],[2.31,3.43],[2.34,3.47],[2.37,3.41],[2.40,3.49],[2.43,3.44],[2.46,3.48],[2.48,3.42],[2.52,3.50],[2.55,3.44],[2.58,3.47],[2.61,3.40],[2.64,3.48],[2.67,3.41],[2.70,3.46],
[.06,3.35],[.16,3.28],[.30,3.30],[.44,3.36],[.62,3.32],[.78,3.28],[.92,3.36],[1.06,3.30],[1.20,3.34],[1.34,3.28],[1.50,3.35],[1.60,3.25],[1.72,3.32],[1.84,3.38],[1.92,3.24],[2.02,3.32],[2.08,3.18],[2.14,3.36],[2.18,3.26],[2.24,3.15],[2.30,3.34],[2.34,3.22],[2.40,3.10],[2.46,3.30],[2.50,3.20],[2.54,3.05],[2.58,3.34],[2.62,3.14],[2.66,3.25],[2.70,3.00],[2.74,3.32],[2.78,3.20],[2.82,3.08],[2.86,3.30],[2.90,3.18],[2.93,3.38],[2.96,3.00],[3.00,3.24],[3.04,3.12],[3.08,3.34],[3.12,3.22],[3.16,3.05],[3.20,3.30],[3.24,3.15],[3.30,3.35],[3.35,3.20],[3.42,3.30],[3.48,3.22],[3.58,3.08],[3.25,2.95],[3.32,3.02],
[.20,3.10],[.25,3.02],[.36,2.98],[.46,3.05],[.60,2.95],[.72,3.12],[.85,3.02],[.95,2.90],[1.08,3.05],[1.20,2.98],[1.30,3.10],[.05,2.85],[.14,2.70],[.28,2.90],[.42,2.78],[.56,2.88],[.68,2.72],[.80,2.60],[.88,2.82],[1.00,2.70],[1.12,2.84],[1.22,2.62],[1.34,2.74],[.05,2.65],[.08,2.55],[.20,2.40],[.32,2.58],[.44,2.48],[.58,2.36],[.72,2.48],[.86,2.38],[.92,2.52],[1.02,2.30],[1.14,2.46],[1.26,2.38],[1.36,2.50],[.14,2.42],[.16,2.38],[.30,2.12],[.46,2.15],[.62,2.22],[.74,2.10],[.88,2.20],[1.00,2.05],[1.12,2.18],[1.24,2.08],[1.34,2.22],[.04,2.00],[.10,1.85],[.25,1.82],[.38,1.72],[.56,1.88],[.72,1.92],[.82,1.78],[.92,1.70],[1.02,1.88],[.05,1.55],[.18,1.62],[.34,1.60],[.60,1.66],[.72,1.60],[.82,1.62],[.94,1.58],
[1.46,3.28],[1.52,3.15],[1.58,3.02],[1.64,3.12],[1.70,2.95],[1.76,3.18],[1.82,3.02],[1.88,2.88],[1.94,3.08],[2.00,2.92],[2.04,2.78],[2.10,2.98],[2.14,2.84],[2.18,3.05],[2.22,2.90],[2.26,2.74],[2.30,2.96],[2.34,2.82],[2.38,3.00],[2.42,2.88],[2.46,2.72],[2.50,2.92],[2.54,2.80],[2.58,2.96],[2.62,2.68],[2.66,2.86],[2.70,2.74],[2.74,2.92],[2.78,2.78],[2.84,2.94],[2.90,2.74],[2.96,2.86],[3.02,2.70],[3.08,2.92],[3.14,2.74],[3.20,2.58],[3.28,2.80],[3.36,2.66],[3.46,2.40],[3.36,2.25],
[1.48,2.78],[1.54,2.65],[1.60,2.52],[1.66,2.72],[1.72,2.48],[1.78,2.62],[1.84,2.40],[1.90,2.70],[1.94,2.55],[1.98,2.38],[2.02,2.64],[2.06,2.50],[2.10,2.30],[2.14,2.68],[2.18,2.44],[2.22,2.56],[2.26,2.28],[2.30,2.62],[2.34,2.42],[2.38,2.52],[2.42,2.24],[2.46,2.46],[2.50,2.58],[2.54,2.30],[2.58,2.44],[2.62,2.18],[2.66,2.52],[2.70,2.34],[2.76,2.48],[2.82,2.22],[2.88,2.40],[2.94,2.14],[3.00,2.32],[3.06,2.50],[3.12,2.06],[3.20,2.24],[3.30,2.10],
[1.46,2.30],[1.52,2.18],[1.58,2.38],[1.62,2.08],[1.66,2.24],[1.70,1.98],[1.74,2.16],[1.78,2.32],[1.82,2.04],[1.86,2.20],[1.90,2.00],[1.94,2.28],[1.98,2.12],[2.02,1.96],[2.06,2.20],[2.10,2.06],[2.14,1.90],[2.18,2.12],[2.22,1.98],[2.26,2.16],[2.30,1.84],[2.34,2.04],[2.38,1.92],[2.44,2.08],[2.50,1.88],[2.56,1.98],[2.62,1.78],[2.70,1.94],[2.78,1.72],[2.88,1.84],[3.00,1.60],[3.16,1.70],[2.04,1.80],[2.12,1.72],[2.20,1.64],[2.30,1.70],[2.40,1.62],[2.50,1.66],
[.80,1.46],[.86,1.40],[.90,1.32],[.92,1.22],[.88,1.12],[.94,1.02],[1.00,.95],[1.06,.88],[.84,1.02],[.90,.90],[.82,1.26],[1.02,1.44],[1.06,1.52],[1.14,1.64],[1.20,1.72],[1.26,1.82],[1.34,1.85],[1.44,1.92],[1.52,2.00],[1.60,1.98],[1.68,1.95],[1.76,2.02],[1.90,2.02],[2.02,1.90],[2.06,1.72],[2.08,1.56],[2.04,1.44],[2.10,1.32],[1.98,1.28],[1.92,1.18],[1.86,1.08],[1.78,1.02],[1.72,.94],[1.62,.92],[1.54,.86],[1.46,.80],[1.38,.78],[1.30,.72],[1.42,.68],[1.50,.72],[1.58,.78],[1.66,.82],[1.74,.70],[1.84,.92],[1.92,.98],[2.00,1.10],[2.10,1.12],[2.16,1.22],[2.22,1.36],[2.26,1.48],[2.34,1.30],[2.42,1.42],[2.46,1.20],[2.52,1.04],[2.60,1.18],[2.66,.92],[2.72,1.05],[2.80,.80],[2.88,.96],[2.94,.70],[3.01,.60],[3.08,1.02],[3.16,.75],[3.30,.25],[2.14,1.02],[2.22,.86],[2.30,.78],[2.38,.96],[2.44,.66],[2.50,.84],[2.56,.56],[2.62,.72],[2.70,.48],[2.78,.30],[2.86,.42],[1.44,.55],[1.52,.46],[1.60,.58],[1.68,.44],[1.76,.52],[1.82,.66],[1.90,.42],[1.98,.72],[2.06,.52],[2.14,.36],[2.22,.58],[2.30,.42],[2.38,.30],[2.46,.46],[1.44,.30],[1.50,.22],[1.56,.34],[1.62,.12],[1.68,.22],[1.72,.05],[1.76,.18],[1.80,.10],[1.84,.28],[1.88,.04],[1.92,.14],[1.96,.24],[2.00,.08],[2.04,.18],[2.08,.30],[2.12,.04],[2.18,.14],[2.24,.24],[2.30,.10],[2.36,.04],[2.42,.16],[2.48,.08],[2.52,.12],[2.56,.06],[2.60,.10],[2.66,.02],[2.90,.04],[3.20,.03],
[.02,1.40],[.10,1.30],[.22,1.48],[.36,1.36],[.48,1.42],[.60,1.30],[.68,1.38],[.74,1.20],[.76,1.05],[.62,1.10],[.50,1.22],[.30,1.16],[.16,1.08],[.04,1.18],[.14,.92],[.26,.86],[.40,.98],[.52,.88],[.66,.92],[.78,.78],[.88,.70],[.98,.76],[1.08,.62],[1.18,.72],[1.26,.58],[1.34,.44],[1.38,.30],[.12,.72],[.22,.66],[.34,.60],[.46,.70],[.58,.56],[.70,.62],[.80,.52],[.90,.46],[1.00,.56],[1.12,.44],[1.22,.38],[.05,.52],[.18,.46],[.30,.38],[.44,.42],[.56,.32],[.68,.36],[.78,.28],[.88,.24],[.98,.32],[1.06,.20],[1.16,.26],[1.26,.16],[1.34,.10],[.02,.20],[.12,.24],[.24,.14],[.36,.06],[.50,.18],[.62,.10],[.74,.04],[.86,.08],[.96,.04],[1.08,.06],[1.20,.03],[1.40,.06],
[1.90,2.96],[2.04,3.04],[2.12,2.90],[2.28,3.08],[2.36,2.90],[2.44,3.02],[2.52,2.68],[2.56,2.62],[2.60,2.84],[2.68,2.98],[2.72,2.66],[2.80,2.86],[2.86,2.60],[1.92,2.62],[1.98,2.48],[2.04,2.34],[2.08,2.58],[2.12,2.44],[2.16,2.30],[2.20,2.62],[2.24,2.36],[2.28,2.18],[2.32,2.50],[2.36,2.24],[2.40,2.42],[2.44,2.14],[2.48,2.34],[2.52,2.48],[2.56,2.16],[2.60,2.38],[1.76,2.42],[1.80,2.22],[1.84,2.56],[1.88,2.30],[1.70,2.34],[1.74,2.58],[1.64,2.42],[1.56,2.28],[1.50,2.46],[1.48,2.12],[1.54,1.98],[1.60,2.16],[1.68,2.10],[1.78,2.08],[1.88,2.10],[1.96,2.04],[2.04,2.10],[2.08,2.00],[2.16,2.02],[2.24,2.08],[2.28,1.94],[2.36,1.82],[2.44,1.96],[2.52,1.78],[2.58,1.90],[2.68,1.84],[2.10,1.94],[2.16,1.80],[2.24,1.76],[2.08,1.84],[2.00,1.86],[2.12,1.56],[2.18,1.48],[2.24,1.58],[2.30,1.56],[2.38,1.50],[2.46,1.56],[2.56,1.44],[2.66,1.52],[2.76,1.40],[2.86,1.50],[2.14,1.42],[2.28,1.24],[2.36,1.12],[2.44,1.30],[2.52,1.26],[2.60,1.08],[2.68,1.30],[2.06,1.24],[2.14,1.14],[2.20,1.04],[2.08,1.02],[2.02,.96],[1.96,.86],[1.88,.82],[1.80,.86],[1.70,.86],[1.64,.72],[1.56,.64],[1.48,.60],[1.54,.56],[1.62,.44],[1.70,.60],[1.78,.38],[1.86,.54],[1.94,.34],[2.02,.62],[2.10,.46],[2.18,.26],[2.26,.34],[2.34,.50],[2.42,.24],[1.74,.30],[1.82,.20],[1.90,.26],[1.98,.12],[2.06,.10],[2.14,.20],[2.22,.08],[2.28,.18],[2.34,.14],[2.40,.08],[2.46,.22],[2.50,.04],[2.54,.16],[1.70,.14],[1.66,.06],[1.60,.26],[1.54,.14],[1.48,.08],
[.94,1.30],[.96,1.12],[.88,1.34],[1.04,1.50],[1.00,1.42],[1.10,1.58],[1.16,1.68],[1.24,1.74],[1.30,1.82],[1.38,1.88],[1.48,1.92],[1.56,1.94],[1.66,1.92],[1.72,1.96],[1.80,1.98],[1.88,1.98],[1.96,1.92],[2.02,1.78],[2.00,1.64],[2.00,1.50],[1.96,1.40],[1.90,1.34],[1.86,1.24],[1.80,1.16],[1.76,1.10],[1.68,1.02],[1.60,1.00],[1.52,.98],[1.44,.92],[1.36,.82],[1.28,.84],[1.22,.90],[1.14,.98],[1.06,1.00],[.98,1.04],[1.34,.70],[1.40,.60],[1.30,.60],[1.36,.96],[1.16,.88],[1.08,.80],[.96,.88],[.86,.84],[.80,1.00],[.74,.96],[.70,1.10],
[2.07,2.77],[2.21,2.71],[2.33,2.70],[2.41,2.63],[2.57,2.73],[2.47,2.57],[2.29,2.81],[2.11,2.63],[2.19,2.21],[2.31,2.33],[2.43,2.31],[2.53,2.11],[2.37,2.11],[2.09,2.16],[1.99,2.22],[1.87,2.48],[1.69,2.66],[1.57,2.56],[1.63,2.32],[1.79,2.14],[1.93,1.92],[2.13,1.66],[2.27,1.82],[2.41,1.72],[2.33,1.44],[2.19,1.32],[2.29,1.10],[2.41,1.02],[2.49,1.12],[2.55,.96],[2.47,.74],[2.35,.64],[2.25,.70],[2.15,.62],[2.05,.78],[1.95,.60],[1.89,.70],[1.79,.76],[1.67,.62],[1.59,.68],[1.47,.46],[1.53,.32],[1.59,.42],[1.65,.30],[1.73,.40],[1.81,.48],[1.87,.18],[1.93,.06],[1.99,.18],[2.03,.30],[2.11,.28],[2.19,.42],[2.27,.50],[2.39,.40],[2.51,.28],[2.59,.36],[2.69,.62],[2.77,.84],[2.85,.66],[2.63,.96],[2.73,1.16],[2.83,1.10],[2.95,1.18],[3.03,.84],[3.11,.50],[3.12,1.24],[3.01,1.38],[2.93,1.52],[3.10,1.46],[2.79,1.58],[2.62,1.62],[2.71,1.70],[2.90,1.92],[2.98,2.02],[2.82,2.02],[2.74,2.12],[2.90,2.22],[3.04,2.20],[3.10,2.38],[2.96,2.46],[2.84,2.34],[2.72,2.44],[3.22,2.42],[3.26,2.10],[3.18,1.92],[3.30,1.86],
[.95,.62],[1.02,.68],[1.12,.58],[1.20,.54],[1.26,.46],[1.30,.50],[1.18,.30],[1.10,.34],[.94,.40],[.84,.40],[.74,.46],[.62,.44],[.50,.30],[.38,.28],[.26,.26],[.14,.34],[.08,.40],[.20,.58],[.32,.72],[.42,.82],[.56,.74],[.64,.78],[.72,.72],[.82,.64],[.34,.96],[.44,1.10],[.56,1.16],[.66,1.24],[.76,1.34],[.86,1.52],[.70,1.50],[.50,1.54],[.28,1.30],[.16,1.40],[.08,1.12],[.08,.82],[.20,.20],[.44,.16],[.68,.18],[.92,.18],[1.14,.14],[1.30,.22],[1.38,.18],[.30,2.30],[.44,2.02],[.56,2.60],[.82,2.92],[1.08,2.56],[1.18,2.30],[1.28,2.20],[1.34,1.98],[1.28,1.78],[1.14,1.86],[.98,2.16],[.84,2.06]
];

// quadrant gates, same on all four dot plots
const gateX = 25.7;
const gateY = 35.2;
const decades = [1, 10, 100, 1000, 10000];

// ---- histogram counts, one value every 8 channels from channel 0 ----
const channelStep = 8;
const edgeCount = 126; // off-scale bin at the right hand end
const controlCounts = [52,36,20,13,9,7,5,5,6,6,5,4,4,4,4,5,5,6,9,14,22,38,75,150,225,236,150,75,35,20,14,10,8,7,7,6,6,7,7,7,7,8,8,10,18,28,38,47,44,35,25,18,11,8,5,4,4,5,6,8,9,10,11,11,12,13,14,14,13,12,11,10,9,8,8,8,6,6,6,6,6,7,7,7,7,7,7,8,7,7,7,6,6,6,6,6,5,5,5,5,5,6,5,5,5,5,5,5,5,5,5,5,5,5,5,5,5,4,4,5,4,3,3,3,3,3,3,3];
const ptCounts = [55,30,17,14,13,11,10,8,7,8,9,9,10,11,12,13,15,17,19,20,20,22,35,70,115,143,125,90,55,28,14,9,6,6,5,6,6,6,6,7,6,7,8,10,12,20,27,33,37,38,33,26,18,13,9,6,4,4,4,4,4,4,5,5,6,8,12,14,13,12,15,14,11,9,6,5,4,4,4,4,5,6,5,5,6,6,7,9,8,9,13,9,8,8,7,7,6,5,5,4,5,5,6,5,5,4,4,4,5,5,4,4,4,4,3,3,3,3,3,3,3,3,4,4,6,5,3,3];
const balsCounts = [70,45,24,22,18,15,13,12,11,11,11,12,13,15,17,20,26,28,30,32,33,38,60,85,108,106,105,70,38,18,13,11,9,9,9,8,8,9,9,9,10,10,11,14,20,26,30,34,36,30,24,18,14,11,9,7,5,4,5,6,7,8,9,11,12,13,13,13,14,16,14,13,14,11,9,7,6,6,6,6,6,6,6,6,6,7,8,9,10,11,11,10,11,10,8,7,6,6,6,6,6,6,6,7,8,9,10,9,8,8,8,8,7,6,5,5,5,6,5,5,6,6,5,6,7,6,7,6];
const comboCounts = [60,55,47,42,30,25,21,19,18,16,14,12,11,9,8,7,7,8,12,20,18,16,30,50,62,72,65,45,28,18,13,13,11,11,11,11,12,13,12,11,10,9,8,7,9,13,16,17,19,20,26,21,17,14,10,9,8,8,8,11,7,6,6,7,8,8,8,8,8,8,9,12,8,8,8,8,9,9,7,7,6,6,6,6,7,12,7,6,8,10,8,11,8,7,7,8,10,7,7,6,6,5,6,6,6,7,6,7,8,9,6,6,6,6,5,5,5,6,6,5,5,5,5,6,6,6,5,5];

// marker bars: name, from channel, to channel, count, label channel, label count
const controlMarkers = [["M1",0,157,219,106,206],["M2",157,235,180,232,160],["M3",232,338,130,286,117],["M4",341,427,116.5,387,101]];
const ptMarkers = [["M1",0,166,216.5,111,203],["M2",166,252,181,210,165],["M3",252,355,129.5,306,116.5],["M4",354,437,118,395,102]];
const balsMarkers = [["M1",2,159,220,84,206],["M2",168,246,180,209,163],["M3",246,347,132,294,116],["M4",347,432,114,392,96]];
const comboMarkers = [["M1",0,163,224,86,207],["M2",161,237,180,200,164],["M3",250,352,131,302,116],["M4",352,444,120,401,105]];

const yCountTicks = [0, 50, 100, 150, 200, 250];
const xChannelTicks = [0, 200, 400, 600, 800, 1000];

const svg = d3.select('body').append('svg').attr('width', 733).attr('height', 1149);

// the source is a soft scan, take the hard edge off the dots a little
svg.append('defs').append('filter').attr('id', 'soft')
    .attr('x', 0).attr('y', 0).attr('width', 1).attr('height', 1)
    .append('feGaussianBlur').attr('stdDeviation', 0.3);

function drawScatter(box, title, dots, dense, holes) {
    var x = d3.scaleLog().domain([1, 10000]).range([box.x0, box.x1]),
        y = d3.scaleLog().domain([1, 10000]).range([box.y1, box.y0]);
    var g = svg.append('g');

    var fmt = (d) => Math.round(Math.log10(d));
    function supLabels(sel) {
        sel.selectAll('.tick text').each(function(d) {
            var t = d3.select(this).text('');
            t.append('tspan').text('10');
            t.append('tspan').attr('dy', -6).attr('font-size', 9.5).text(fmt(d));
        });
    }

    var marks = g.append('g').attr('filter', 'url(#soft)');

    // dense part of the population is too packed to read single events
    marks.append('path')
        .attr('d', d3.line().x(d => x(10 ** d[0])).y(d => y(10 ** d[1])).curve(d3.curveLinearClosed)(dense))
        .attr('fill', '#060606');

    marks.selectAll('circle.dot').data(dots).enter().append('circle')
        .attr('class', 'dot')
        .attr('cx', d => x(10 ** d[0]))
        .attr('cy', d => y(10 ** d[1]))
        .attr('r', 1.25)
        .attr('fill', '#111');

    marks.selectAll('circle.hole').data(holes).enter().append('circle')
        .attr('class', 'hole')
        .attr('cx', d => x(10 ** d[0]))
        .attr('cy', d => y(10 ** d[1]))
        .attr('r', 1)
        .attr('fill', '#fff');

    // frame + gates
    g.append('rect').attr('x', box.x0).attr('y', box.y0)
        .attr('width', box.x1 - box.x0).attr('height', box.y1 - box.y0)
        .attr('fill', 'none').attr('stroke', '#555').attr('stroke-width', 1.2);
    g.append('line').attr('x1', x(gateX)).attr('x2', x(gateX)).attr('y1', box.y0).attr('y2', box.y1)
        .attr('stroke', '#4a4a4a').attr('stroke-width', 1.6);
    g.append('line').attr('x1', box.x0).attr('x2', box.x1).attr('y1', y(gateY)).attr('y2', y(gateY))
        .attr('stroke', '#4a4a4a').attr('stroke-width', 1.4);

    var xAxis = g.append('g').attr('transform', 'translate(0,' + box.y1 + ')')
        .call(d3.axisBottom(x).tickValues(decades).tickSize(4).tickPadding(14));
    var yAxis = g.append('g').attr('transform', 'translate(' + box.x0 + ',0)')
        .call(d3.axisLeft(y).tickValues(decades).tickSize(3).tickPadding(7));
    [xAxis, yAxis].forEach(a => {
        a.select('.domain').remove();
        a.selectAll('line').attr('stroke', '#555');
        a.selectAll('text').attr('font-size', 14.5);
        supLabels(a);
    });
    yAxis.selectAll('.tick text').attr('dy', '0.75em');

    g.append('text').attr('x', (box.x0 + box.x1) / 2).attr('y', box.y0 - 8)
        .attr('text-anchor', 'middle').attr('font-size', 16.4).text(title);
    g.append('text').attr('x', (box.x0 + box.x1) / 2).attr('y', box.y1 + 51)
        .attr('text-anchor', 'middle').attr('font-size', 15.5).text('FL1-H');
    g.append('text').attr('transform', 'translate(' + (box.x0 - 37) + ',' + (box.y0 + 105) + ') rotate(-90)')
        .attr('text-anchor', 'middle').attr('font-size', 15.5).text('FL2-H');
}

function drawHist(box, label, pct, counts, markers) {
    var x = d3.scaleLinear().domain([0, 1030]).range([box.x0, box.x1]),
        y = d3.scaleLinear().domain([0, 250]).range([box.y1, box.y0]);
    var g = svg.append('g');

    var area = d3.area().x((d, i) => x(i * channelStep)).y0(y(0)).y1(d => y(d));
    var top = d3.line().x((d, i) => x(i * channelStep)).y(d => y(d));
    g.append('path').attr('d', area(counts)).attr('fill', '#4b4099');
    g.append('path').attr('d', top(counts)).attr('fill', 'none')
        .attr('stroke', '#14122b').attr('stroke-width', 1);

    // open frame: left + bottom come from the axes
    g.append('path')
        .attr('d', 'M' + box.x0 + ',' + box.y0 + 'H' + box.x1 + 'V' + box.y1)
        .attr('fill', 'none').attr('stroke', '#777').attr('stroke-width', 1);
    g.append('line').attr('x1', x(1025)).attr('x2', x(1025)).attr('y1', y(0)).attr('y2', y(edgeCount))
        .attr('stroke', '#333').attr('stroke-width', 1.2);

    var xAxis = g.append('g').attr('transform', 'translate(0,' + box.y1 + ')')
        .call(d3.axisBottom(x).tickValues(xChannelTicks).tickSize(4).tickPadding(13).tickFormat(d3.format(',')));
    var yAxis = g.append('g').attr('transform', 'translate(' + box.x0 + ',0)')
        .call(d3.axisLeft(y).tickValues(yCountTicks).tickSize(5).tickPadding(2));
    [xAxis, yAxis].forEach(a => {
        a.select('.domain').attr('stroke', '#555').attr('stroke-width', 1.4);
        a.selectAll('line').attr('stroke', '#555');
        a.selectAll('text').attr('font-size', 15);
    });

    // marker gates
    markers.forEach(m => {
        var mk = g.append('g');
        mk.append('line').attr('x1', x(m[1])).attr('x2', x(m[2])).attr('y1', y(m[3])).attr('y2', y(m[3]));
        mk.append('line').attr('x1', x(m[1])).attr('x2', x(m[1])).attr('y1', y(m[3]) - 7.5).attr('y2', y(m[3]) + 8);
        mk.append('line').attr('x1', x(m[2])).attr('x2', x(m[2])).attr('y1', y(m[3]) - 7.5).attr('y2', y(m[3]) + 8);
        mk.selectAll('line').attr('stroke', '#333').attr('stroke-width', 1);
        mk.append('text').attr('x', x(m[4])).attr('y', y(m[5]) + 5)
            .attr('text-anchor', 'middle').attr('font-size', 12.5).text(m[0]);
    });

    g.append('text').attr('x', box.x1 - 15).attr('y', box.y0 + box.note)
        .attr('text-anchor', 'end').attr('font-size', 16.4).text(label);
    g.append('text').attr('x', box.x1 - 15).attr('y', box.y0 + box.note + 21)
        .attr('text-anchor', 'end').attr('font-size', 16.4).text(pct);
    g.append('text').attr('x', (box.x0 + box.x1) / 2 - 1).attr('y', box.y1 + 51)
        .attr('text-anchor', 'middle').attr('font-size', 15.5).text('FL2-A');
    g.append('text').attr('transform', 'translate(' + (box.x0 - 40) + ',' + (box.y0 + 95) + ') rotate(-90)')
        .attr('text-anchor', 'middle').attr('font-size', 15.5).text('Counts');
}

drawScatter({x0: 52, x1: 328, y0: 22, y1: 234}, 'Control', controlDots.concat(controlFringe), controlDense, controlHoles);
drawScatter({x0: 446, x1: 722, y0: 22, y1: 234}, 'PT (10 \u03bcM)', ptDots, ptDense, ptHoles);
drawScatter({x0: 52, x1: 328, y0: 324, y1: 536}, 'Balsalazide (20 mM)', balsDots, balsDense, balsHoles);
drawScatter({x0: 446, x1: 722, y0: 324, y1: 536}, 'PT+Balsalazide', comboDots, comboDense, comboHoles);

drawHist({x0: 55, x1: 321, y0: 637, y1: 828, note: 27}, 'Control', '% of M1: 4.69%', controlCounts, controlMarkers);
drawHist({x0: 449, x1: 714, y0: 637, y1: 828, note: 27}, 'PT (10 \u03bcM)', '% of M1: 19.3%', ptCounts, ptMarkers);
drawHist({x0: 55, x1: 321, y0: 904, y1: 1095, note: 21}, 'Balsalazide (20 mM)', '% of M1: 18.07%', balsCounts, balsMarkers);
drawHist({x0: 449, x1: 714, y0: 904, y1: 1095, note: 21}, 'PT+Balsalazide', '% of M1: 26.4%', comboCounts, comboMarkers);
</script>
</body>
</html>
